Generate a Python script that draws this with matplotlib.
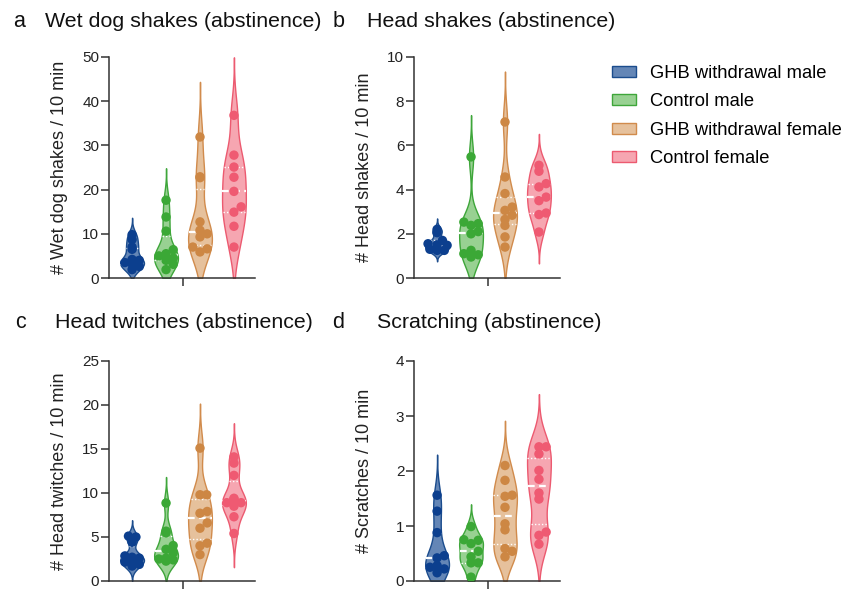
import numpy as np
import matplotlib.pyplot as plt
from matplotlib.patches import Patch

plt.rcParams['font.family'] = ['Liberation Sans', 'DejaVu Sans']

# groups and colours
groups = ['GHB withdrawal male', 'Control male', 'GHB withdrawal female', 'Control female']
edge_colors = ['#1b4c8d', '#3ea63a', '#d18b4c', '#ec5a70']
fill_colors = ['#6486b6', '#98d192', '#e6c19c', '#f6a6b1']
dot_colors = ['#0c3f8e', '#3ba836', '#cd8744', '#ef5a72']

# values (counts per 10 min)
wet_dog = [
    [1.9, 2.6, 3.2, 3.5, 4.0, 4.2, 6.5, 7.0, 8.7, 9.8],
    [1.9, 3.1, 4.0, 4.5, 5.0, 5.5, 6.4, 10.6, 13.8, 17.6],
    [5.9, 6.6, 7.0, 9.3, 10.0, 10.8, 12.7, 22.7, 22.9, 31.9],
    [7.0, 11.7, 14.9, 16.1, 19.6, 22.8, 25.1, 27.8, 36.8],
]
head_shakes = [
    [1.25, 1.25, 1.3, 1.48, 1.5, 1.55, 1.7, 2.05, 2.2],
    [0.95, 1.05, 1.1, 1.25, 2.0, 2.1, 2.38, 2.46, 2.53, 5.48],
    [1.40, 1.86, 2.38, 2.65, 2.84, 3.06, 3.21, 3.82, 4.57, 7.06],
    [2.08, 2.87, 2.94, 3.50, 3.66, 4.12, 4.27, 4.83, 5.10],
]
head_twitches = [
    [1.70, 1.89, 2.15, 2.4, 2.6, 2.7, 2.85, 4.41, 5.0, 5.1],
    [2.26, 2.4, 2.5, 2.6, 3.2, 3.6, 4.03, 5.47, 5.66, 8.86],
    [3.0, 4.0, 4.3, 6.0, 6.6, 7.7, 7.9, 9.8, 9.8, 15.1],
    [5.4, 7.3, 8.5, 8.9, 8.9, 9.3, 9.4, 12.0, 13.4, 14.1],
]
scratches = [
    [0.15, 0.22, 0.25, 0.28, 0.42, 0.46, 0.88, 1.27, 1.56],
    [0.07, 0.33, 0.33, 0.44, 0.54, 0.68, 0.74, 0.75, 0.99],
    [0.44, 0.54, 0.59, 0.93, 1.04, 1.34, 1.54, 1.56, 1.83, 2.10],
    [0.67, 0.83, 0.89, 1.49, 1.6, 1.85, 2.01, 2.31, 2.44, 2.44],
]

panels = [
    ('a', 'Wet dog shakes (abstinence)', '# Wet dog shakes / 10 min', wet_dog, 50, 10),
    ('b', 'Head shakes (abstinence)', '# Head shakes / 10 min', head_shakes, 10, 2),
    ('c', 'Head twitches (abstinence)', '# Head twitches / 10 min', head_twitches, 25, 5),
    ('d', 'Scratching (abstinence)', '# Scratches / 10 min', scratches, 4, 1),
]

W, H = 856, 589
fig = plt.figure(figsize=(W / 100, H / 100), dpi=100)

# axes boxes in pixels: left, top, right, bottom
boxes = [(109, 57, 255, 278), (414, 57, 560, 278),
         (109, 361, 255, 581), (414, 361, 560, 581)]
letter_pos = [(13, 27), (333, 27), (15, 328), (332, 328)]
title_pos = [(45, 27), (367, 27), (55, 328), (377, 328)]


def kde(data, grid, bw):
    d = np.asarray(data)[:, None]
    return np.exp(-0.5 * ((grid[None, :] - d) / bw) ** 2).sum(axis=0)


def swarm(vals, px_per_unit, diam_px, limits_px):
    # simple beeswarm offsets in pixels, kept inside the violin
    order = np.argsort(vals)
    placed = []
    offs = np.zeros(len(vals))
    step = diam_px * 0.9
    for i in order:
        y = vals[i] * px_per_unit
        lim = max(limits_px[i] - diam_px * 0.2, 0)
        best = 0.0
        for k in [0, 1, -1, 2, -2, 3, -3]:
            x = float(np.clip(k * step, -lim, lim))
            ok = all((x - px) ** 2 + (y - py) ** 2 >= (diam_px * 0.7) ** 2 for px, py in placed)
            if ok:
                best = x
                break
        placed.append((best, y))
        offs[i] = best
    return offs


for (letter, title, ylabel, data, ymax, ystep), (l, t, r, b), lp, tp in zip(
        panels, boxes, letter_pos, title_pos):
    ax = fig.add_axes([l / W, 1 - b / H, (r - l) / W, (b - t) / H])
    ax.set_xlim(0.32, 4.62)
    ax.set_ylim(0, ymax)
    px_per_unit = (b - t) / ymax
    unit_px = 34.0
    for i, vals in enumerate(data):
        pos = i + 1
        vals = np.array(vals)
        n = len(vals)
        bw = 0.75 * vals.std(ddof=1) * n ** (-0.2)
        lo = max(0, vals.min() - 3.0 * bw)
        hi = vals.max() + 3.0 * bw
        grid = np.linspace(lo, hi, 300)
        dens = kde(vals, grid, bw)
        scale = 0.35 / dens.max()
        half = dens * scale
        ax.fill_betweenx(grid, pos - half, pos + half, facecolor=fill_colors[i],
                         edgecolor=edge_colors[i], linewidth=1.0, zorder=2)
        # median and quartiles
        q1, med, q3 = np.percentile(vals, [25, 50, 75])
        for q, ls, lw in [(q1, (0, (1, 1.5)), 1.0), (q3, (0, (1, 1.5)), 1.0), (med, (0, (3, 2)), 1.6)]:
            w = kde(vals, np.array([q]), bw)[0] * scale
            ax.plot([pos - w, pos + w], [q, q], color='white', linestyle=ls,
                    linewidth=lw, zorder=3)
        limits = kde(vals, vals, bw) * scale * unit_px
        offs = swarm(vals, px_per_unit, 8.0, limits) / unit_px
        ax.scatter(pos + offs, vals, s=46, color=dot_colors[i], edgecolor='none', zorder=4)

    ax.set_yticks(np.arange(0, ymax + ystep / 2, ystep))
    ax.set_xticks([2.5])
    ax.set_xticklabels([''])
    for side in ['top', 'right']:
        ax.spines[side].set_visible(False)
    for side in ['left', 'bottom']:
        ax.spines[side].set_color('#333333')
        ax.spines[side].set_linewidth(1.1)
    ax.tick_params(axis='both', length=5.5, width=1.1, color='#333333',
                   labelsize=11, labelcolor='#222222', pad=1.5)
    ax.set_ylabel(ylabel, fontsize=13, color='#222222')
    ax.yaxis.set_label_coords(-41 / (r - l), 0.5)

    fig.text(lp[0] / W, 1 - lp[1] / H, letter, fontsize=15.5, color='#111111', va='baseline')
    fig.text(tp[0] / W, 1 - tp[1] / H, title, fontsize=15.4, color='#111111', va='baseline')

handles = [Patch(facecolor=fill_colors[i], edgecolor=edge_colors[i], linewidth=1.0)
           for i in range(4)]
fig.legend(handles, groups, loc='upper left', bbox_to_anchor=(612 / W, 1 - 65 / H),
           frameon=False, fontsize=13.2, handlelength=1.31, handleheight=0.55,
           handletextpad=0.76, labelspacing=0.62, borderaxespad=0, borderpad=0)

fig.savefig('out.png', dpi=100)
